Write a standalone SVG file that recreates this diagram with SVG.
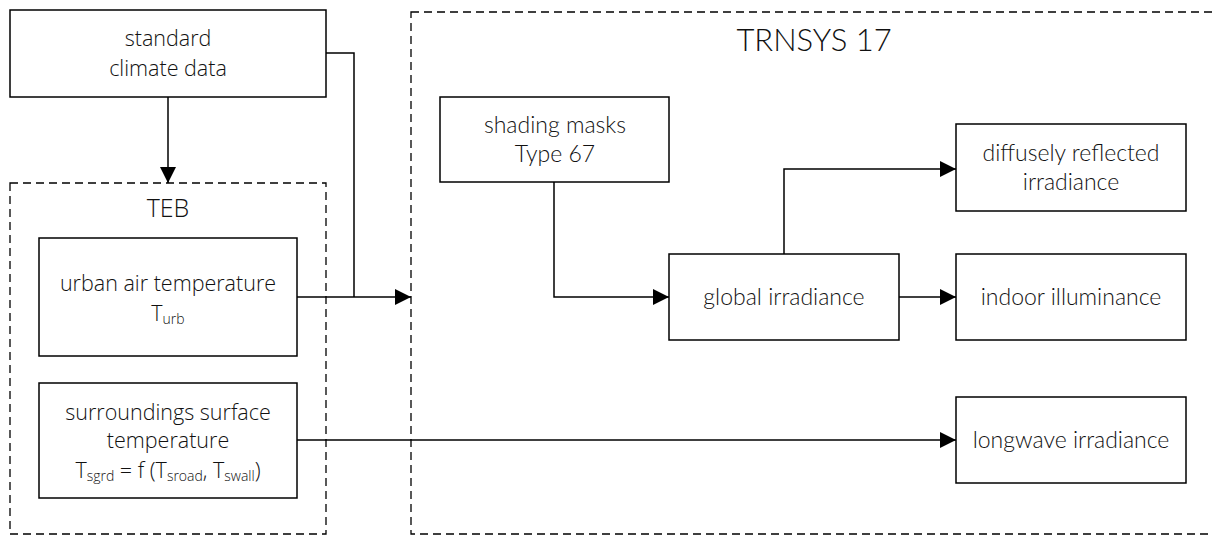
<svg xmlns="http://www.w3.org/2000/svg" width="1213" height="535" viewBox="0 0 1213 535">
<style>
.box{fill:#fff;stroke:#000;stroke-width:1.5}
.dash{fill:none;stroke:#000;stroke-width:1.3;stroke-dasharray:8 5}
.ln{fill:none;stroke:#000;stroke-width:1.5}
.l{font-family:"Open Sans","Noto Sans",sans-serif;font-size:21.5px;font-weight:300;fill:#111;text-anchor:middle}
.r{font-family:Lato,"Liberation Sans",sans-serif;font-size:23px;font-weight:300;fill:#111;text-anchor:middle}
.sub{font-size:14px}
</style>
<defs>
<marker id="ah" viewBox="0 0 16 16" refX="16" refY="8" markerWidth="16" markerHeight="16" markerUnits="userSpaceOnUse" orient="auto">
<path d="M0,0 L16,8 L0,16 Z" fill="#000"/>
</marker>
</defs>
<rect width="1213" height="535" fill="#fff"/>
<g id="trnsys">
<rect class="dash" x="411" y="12" width="820" height="522"/>
<text class="r" x="814" y="51" style="font-size:31px">TRNSYS 17</text>
</g>
<g id="teb">
<rect class="dash" x="10" y="183" width="316" height="351"/>
<text class="l" x="168" y="217" style="font-size:25px">TEB</text>
</g>
<g id="connectors">
<path class="ln" d="M168,97 V183" marker-end="url(#ah)"/>
<path class="ln" d="M326,53 H354 V297" />
<path class="ln" d="M297,297 H411" marker-end="url(#ah)"/>
<path class="ln" d="M297,440 H956" marker-end="url(#ah)"/>
<path class="ln" d="M554,182 V297 H669" marker-end="url(#ah)"/>
<path class="ln" d="M784,254 V169 H956" marker-end="url(#ah)"/>
<path class="ln" d="M899,297 H956" marker-end="url(#ah)"/>
</g>
<g id="standard">
<rect class="box" x="10" y="10" width="316" height="87"/>
<text class="l" x="168" y="46">standard</text>
<text class="l" x="168" y="76">climate data</text>
</g>
<g id="urban">
<rect class="box" x="39" y="238" width="258" height="118"/>
<text class="l" x="168" y="291">urban air temperature</text>
<text class="l" x="168" y="321">T<tspan class="sub" dy="3">urb</tspan></text>
</g>
<g id="surroundings">
<rect class="box" x="39" y="383" width="258" height="115"/>
<text class="l" x="168" y="420">surroundings surface</text>
<text class="l" x="168" y="448">temperature</text>
<text class="l" x="168" y="478">T<tspan class="sub" dy="3">sgrd</tspan><tspan dy="-3"> = f (T</tspan><tspan class="sub" dy="3">sroad</tspan><tspan dy="-3">, T</tspan><tspan class="sub" dy="3">swall</tspan><tspan dy="-3">)</tspan></text>
</g>
<g id="shading">
<rect class="box" x="440" y="97" width="229" height="85"/>
<text class="r" x="555" y="133">shading masks</text>
<text class="r" x="555" y="162">Type 67</text>
</g>
<g id="global">
<rect class="box" x="669" y="254" width="230" height="86"/>
<text class="r" x="784" y="305">global irradiance</text>
</g>
<g id="diffusely">
<rect class="box" x="956" y="124" width="230" height="87"/>
<text class="r" x="1071" y="161">diffusely reflected</text>
<text class="r" x="1071" y="190">irradiance</text>
</g>
<g id="indoor">
<rect class="box" x="956" y="254" width="230" height="86"/>
<text class="r" x="1071" y="305">indoor illuminance</text>
</g>
<g id="longwave">
<rect class="box" x="956" y="397" width="230" height="86"/>
<text class="r" x="1071" y="448">longwave irradiance</text>
</g>
</svg>
